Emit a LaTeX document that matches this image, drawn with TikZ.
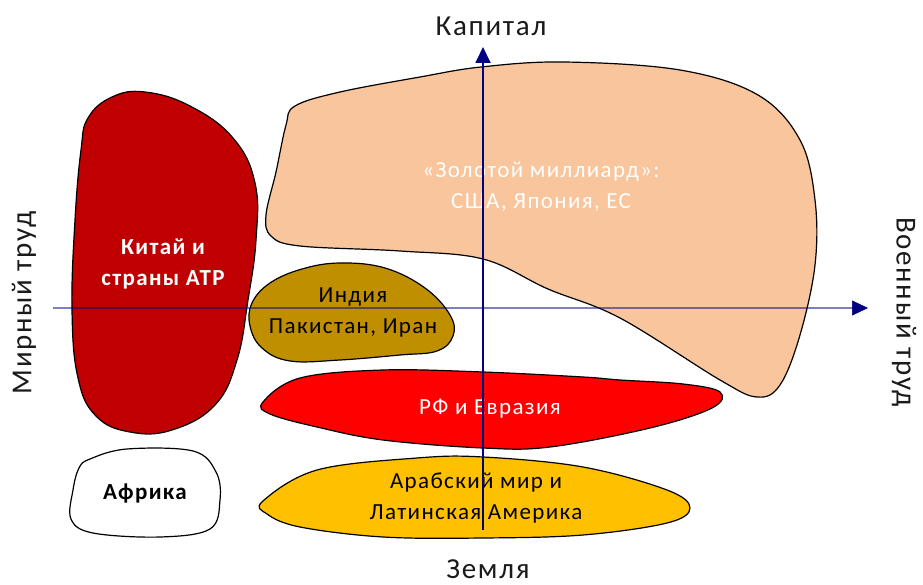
\documentclass[tikz,border=0pt]{standalone}
\usepackage{fontspec}
\setmainfont{Carlito}
\newfontfamily\spacedfont[LetterSpace=6]{Carlito}
\usetikzlibrary{arrows.meta,calc}
\definecolor{navyax}{HTML}{000080}
\definecolor{chinared}{HTML}{C00000}
\definecolor{peach}{HTML}{F8C59C}
\definecolor{indiagold}{HTML}{BF8F00}
\definecolor{rfred}{HTML}{FF0000}
\definecolor{arabgold}{HTML}{FFC000}
\definecolor{labelgray}{HTML}{1A1A1A}
\tikzset{
  blob/.style={draw=black, line width=1.2pt},
  axislabel/.style={font=\spacedfont\fontsize{29}{34}\selectfont, text=labelgray, inner sep=0pt},
  blobtext/.style={font=\spacedfont\fontsize{23}{31}\selectfont, align=center, inner sep=0pt},
  blobbold/.style={font=\spacedfont\fontsize{23}{31}\selectfont\bfseries, align=center, inner sep=0pt},
  vaxis/.style={draw=navyax, line width=1.8pt},
  haxis/.style={draw=navyax, line width=2.8pt, draw opacity=0.5},
  axtip/.style={draw=navyax, line width=0.6pt, -{Triangle[length=16pt,width=15pt,fill=navyax]}}
}
\begin{document}
\begin{tikzpicture}[x=1pt,y=-1pt]
\useasboundingbox (0,0) rectangle (923,585);

% China / APR
\path[blob, fill=chinared] plot[smooth cycle, tension=0.7] coordinates {
 (88,118) (112,97) (145,92) (190,106) (233,138) (255,183) (256,240) (248,300)
 (237,360) (215,405) (172,430) (130,432) (96,416) (78,378) (72,310) (75,220) (81,150)};
\node[blobbold, text=white] (china) at (163,264) {Китай и\\страны АТР};

% Golden billion
\path[blob, fill=peach] plot[smooth cycle, tension=0.6] coordinates {
 (295,106) (340,92) (420,77) (481,67) (564,62) (680,70) (758,95) (800,140)
 (815,200) (815,265) (800,335) (780,385) (757,397) (720,380) (620,318) (548,289)
 (483,259) (400,251) (300,246) (271,236) (266,215) (276,172) (286,125)};
\node[blobtext, text=white] (gold) at (541,187) {«Золотой миллиард»:\\США, Япония, ЕС};

% India
\path[blob, fill=indiagold] plot[smooth cycle, tension=0.65] coordinates {
 (252,303) (270,283) (302,269) (340,263) (385,268) (425,288) (450,315) (453,336)
 (437,351) (400,355) (340,360) (290,361) (262,348) (250,326)};
\node[blobtext, text=black] (india) at (353,312) {Индия\\Пакистан, Иран};

% Russia / Eurasia
\path[blob, fill=rfred] plot[smooth cycle, tension=0.6] coordinates {
 (263,402) (300,378) (383,370) (483,372) (583,377) (620,380) (683,384) (720,392)
 (712,408) (650,428) (550,447) (483,448) (383,440) (317,427) (270,414)};
\node[blobtext, text=white] (rf) at (490,409) {РФ и Евразия};

% Arab world / Latin America
\path[blob, fill=arabgold] plot[smooth cycle, tension=0.6] coordinates {
 (263,501) (317,470) (417,458) (483,457) (583,467) (667,490) (690,508)
 (667,523) (583,535) (483,538) (383,537) (300,527) (267,514)};
\node[blobtext, text=black] (arab) at (476,498) {Арабский мир и\\Латинская Америка};

% Africa
\path[blob, fill=white] plot[smooth cycle, tension=0.6] coordinates {
 (90,459) (127,449) (193,451) (216,472) (220,500) (210,529) (160,537)
 (93,533) (71,519) (73,490) (79,468)};
\node[blobbold, text=black] (africa) at (145,493) {Африка};

% Axis labels
\node[axislabel] (kap) at (491,26) {Капитал};
\node[axislabel] (zem) at (488,569) {Земля};
\node[axislabel, rotate=90] (mir) at (24,303) {Мирный труд};
\node[axislabel, rotate=-90] (voen) at (904,312) {Военный труд};

% Axes
\coordinate (vb) at (483,530);
\coordinate (vt) at (483,47);
\coordinate (hl) at (53,308);
\coordinate (hr) at (868,308);
\draw[haxis] (hl) -- ($(hr)+(-14,0)$);
\draw[axtip] ($(hr)+(-16,0)$) -- (hr);
\draw[vaxis, -{Triangle[length=16pt,width=15pt]}] (vb) -- (vt);
\end{tikzpicture}
\end{document}
